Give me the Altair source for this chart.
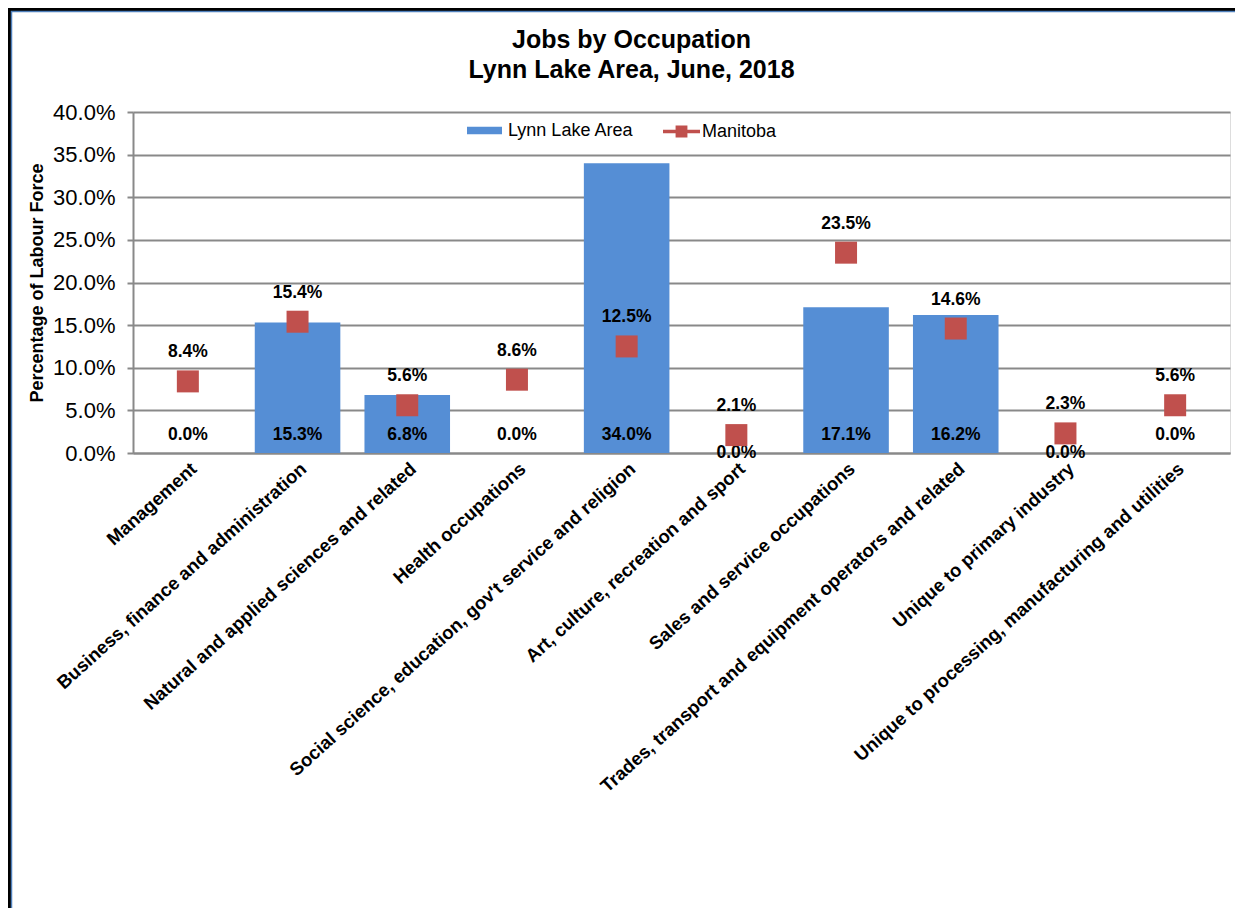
import altair as alt
import pandas as pd

categories = [
    "Management",
    "Business, finance and administration",
    "Natural and applied sciences and related",
    "Health occupations",
    "Social science, education, gov't service and religion",
    "Art, culture, recreation and sport",
    "Sales and service occupations",
    "Trades, transport and equipment operators and related",
    "Unique to primary industry",
    "Unique to processing, manufacturing and utilities",
]
lynn_lake = [0.0, 15.3, 6.8, 0.0, 34.0, 0.0, 17.1, 16.2, 0.0, 0.0]
manitoba = [8.4, 15.4, 5.6, 8.6, 12.5, 2.1, 23.5, 14.6, 2.3, 5.6]
y_ticks = [0, 5, 10, 15, 20, 25, 30, 35, 40]
title_lines = ["Jobs by Occupation", "Lynn Lake Area, June, 2018"]

BLUE = "#558ED5"
RED = "#C0504D"
FONT = "Liberation Sans"

df = pd.DataFrame({"cat": categories, "lynn": lynn_lake, "mb": manitoba})

W, H = 1097, 341
PL, PT = 125, 104

x_enc = alt.X(
    "cat:N",
    sort=categories,
    scale=alt.Scale(paddingInner=0.22, paddingOuter=0.11),
    axis=alt.Axis(
        title=None,
        labelAngle=-42,
        labelFontSize=18.5,
        labelFontWeight="bold",
        labelFont=FONT,
        labelColor="black",
        labelLimit=600,
        ticks=False,
        domain=True,
        domainColor="#898989",
        domainWidth=2,
        labelPadding=6,
    ),
)
y_scale = alt.Scale(domain=[0, 40])
y_axis = alt.Axis(
    values=y_ticks,
    labelExpr="format(datum.value, '.1f') + '%'",
    title="Percentage of Labour Force",
    titleFontSize=18,
    titleFontWeight="bold",
    titleFont=FONT,
    titleColor="black",
    titlePadding=6,
    labelFontSize=22,
    labelFont=FONT,
    labelColor="black",
    labelPadding=12,
    grid=True,
    gridColor="#898989",
    gridWidth=2,
    domainColor="#898989",
    domainWidth=2,
    tickColor="#898989",
    tickWidth=2,
    tickSize=6,
)

base = alt.Chart(df).transform_calculate(
    s1="'Lynn Lake Area'",
    s2="'Manitoba'",
    lynn_lbl="format(datum.lynn, '.1f') + '%'",
    mb_lbl="format(datum.mb, '.1f') + '%'",
)

bars = base.mark_bar().encode(
    x=x_enc,
    y=alt.Y("lynn:Q", scale=y_scale, axis=y_axis),
    color=alt.Color(
        "s1:N",
        scale=alt.Scale(domain=["Lynn Lake Area"], range=[BLUE]),
        legend=alt.Legend(
            title=None,
            orient="none",
            legendX=334,
            legendY=1,
            symbolType="M-1,-0.22H1V0.22H-1Z",
            symbolSize=1225,
            symbolStrokeWidth=0,
            labelFontSize=18,
            labelFont=FONT,
            labelColor="black",
            labelOffset=6,
        ),
    ),
)

lynn_lbl_hi = base.transform_filter("datum.mb >= 4").mark_text(
    fontSize=17.5, fontWeight="bold", font=FONT, color="black", dy=-18
).encode(x=alt.X("cat:N", sort=categories), y=alt.Y(datum=0), text="lynn_lbl:N")

lynn_lbl_lo = base.transform_filter("datum.mb < 4").mark_text(
    fontSize=17.5, fontWeight="bold", font=FONT, color="black", dy=0
).encode(x=alt.X("cat:N", sort=categories), y=alt.Y(datum=0), text="lynn_lbl:N")

points = base.mark_square(size=484, opacity=1, filled=True).encode(
    x=alt.X("cat:N", sort=categories),
    y=alt.Y("mb:Q"),
    color=alt.Color(
        "s2:N",
        scale=alt.Scale(domain=["Manitoba"], range=[RED]),
        legend=alt.Legend(
            title=None,
            orient="none",
            legendX=530,
            legendY=1,
            symbolType="M-1,-0.1H1V0.1H-1Z M-0.32,-0.32H0.32V0.32H-0.32Z",
            symbolSize=1369,
            symbolStrokeWidth=0,
            symbolOpacity=1,
            labelFontSize=18,
            labelFont=FONT,
            labelColor="black",
            labelOffset=2,
        ),
    ),
)

mb_lbl = base.mark_text(
    fontSize=17.5, fontWeight="bold", font=FONT, color="black", dy=-29
).encode(x=alt.X("cat:N", sort=categories), y=alt.Y("mb:Q"), text="mb_lbl:N")

frame_data = alt.Data(values=[{"k": 1}])
frame_outer = alt.Chart(frame_data).mark_rect(
    fill="transparent", stroke="black", strokeWidth=3
).encode(
    x=alt.value(-PL + 1.5), y=alt.value(-PT + 1.5), x2=alt.value(3000), y2=alt.value(3000)
)
frame_inner = alt.Chart(frame_data).mark_rect(
    fill="transparent", stroke="#4F81BD", strokeWidth=1.5
).encode(
    x=alt.value(-PL + 3.5), y=alt.value(-PT + 3.5), x2=alt.value(3000), y2=alt.value(3000)
)

title1 = alt.Chart(frame_data).mark_text(
    fontSize=25, fontWeight="bold", font=FONT, color="black", baseline="middle", align="center"
).encode(x=alt.value(W / 2 - 50), y=alt.value(-72), text=alt.value(title_lines[0]))
title2 = alt.Chart(frame_data).mark_text(
    fontSize=25, fontWeight="bold", font=FONT, color="black", baseline="middle", align="center"
).encode(x=alt.value(W / 2 - 50), y=alt.value(-42), text=alt.value(title_lines[1]))

chart = (
    alt.layer(frame_outer, frame_inner, title1, title2, bars, lynn_lbl_hi, lynn_lbl_lo, points, mb_lbl)
    .resolve_scale(color="independent")
    .properties(
        width=W,
        height=H,
        autosize=alt.AutoSizeParams(type="none"),
        padding={"left": PL, "top": PT, "right": 5, "bottom": 455},
    )
    .configure_view(stroke=None)
    .configure(background="white")
)

chart.save("out.html", embed_options={"renderer": "svg", "actions": False})
